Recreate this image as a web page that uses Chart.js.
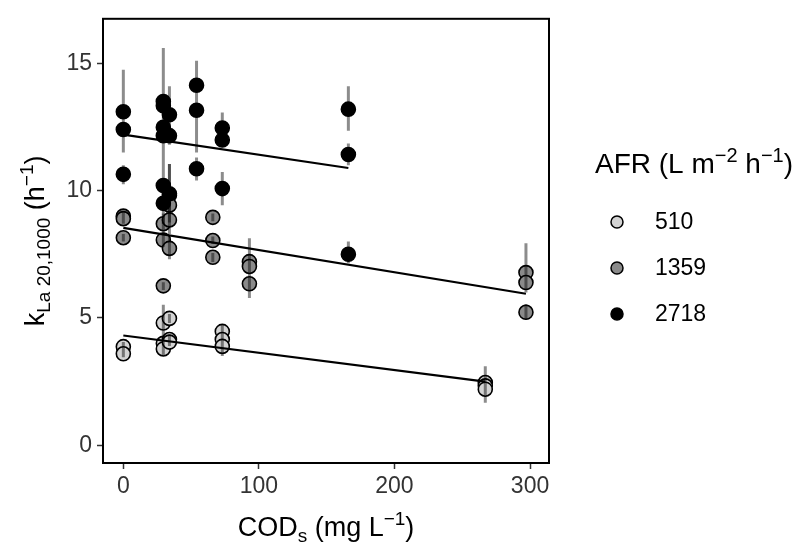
<!DOCTYPE html>
<html><head><meta charset="utf-8">
<script src="https://cdn.jsdelivr.net/npm/chart.js@4/dist/chart.umd.min.js"></script>
<style>html,body{margin:0;padding:0;background:#fff}#c{display:block}</style>
</head><body>
<canvas id="c" width="806" height="546"></canvas>
<script>
// ---- data ----
const xTicks = [0, 100, 200, 300];
const yTicks = [0, 5, 10, 15];
const afrLabels = ['510', '1359', '2718'];

const cod510 = [0, 0, 29.5, 29.5, 29.5, 34, 34, 34, 73, 73, 73, 267, 267, 267];
const kla510 = [3.87, 3.59, 4.8, 4.0, 3.78, 4.98, 4.15, 4.05, 4.47, 4.15, 3.88, 2.46, 2.33, 2.2];
const lo510  = [3.7, 3.45, 4.1, 3.6, 3.5, 4.8, 3.95, 3.9, 4.2, 3.9, 3.5, 2.2, 1.67, 1.9];
const hi510  = [4.05, 3.75, 5.52, 4.4, 4.05, 5.15, 4.35, 4.2, 4.73, 4.4, 4.2, 3.1, 2.9, 2.5];

const cod1359 = [0, 0, 0, 29.5, 29.5, 29.5, 34, 34, 34, 34, 66, 66, 66, 93, 93, 93, 297, 297, 297];
const kla1359 = [9.0, 8.9, 8.15, 8.7, 8.06, 6.26, 9.82, 9.43, 8.85, 7.73, 8.95, 8.04, 7.38, 7.21, 7.02, 6.34, 6.78, 6.39, 5.22];
const lo1359  = [8.8, 8.7, 8.0, 8.3, 7.8, 6.1, 9.2, 8.6, 8.3, 7.3, 8.8, 7.9, 7.2, 6.3, 6.6, 5.78, 6.1, 6.0, 4.93];
const hi1359  = [9.2, 9.1, 8.3, 9.1, 8.3, 6.4, 11.05, 10.3, 9.4, 8.2, 9.1, 8.2, 7.55, 8.13, 7.4, 6.9, 7.93, 6.8, 5.55];

const cod2718 = [0, 0, 0, 29.5, 29.5, 29.5, 29.5, 29.5, 29.5, 34, 34, 34, 54, 54, 54, 73, 73, 73, 166, 166, 166];
const kla2718 = [13.1, 12.4, 10.64, 13.5, 13.33, 12.49, 12.16, 10.2, 9.5, 12.98, 12.16, 9.88, 14.14, 13.16, 10.86, 12.46, 11.99, 10.08, 13.2, 11.42, 7.5];
const lo2718  = [11.5, 11.9, 10.25, 11.4, 12.7, 11.9, 8.7, 9.0, 8.75, 11.8, 11.9, 8.75, 13.2, 11.5, 10.4, 11.7, 11.7, 9.43, 12.35, 11.0, 7.15];
const hi2718  = [14.75, 12.9, 11.0, 15.6, 14.0, 13.1, 14.9, 11.3, 10.2, 14.1, 12.4, 11.05, 15.1, 14.8, 11.3, 13.07, 12.3, 10.73, 14.1, 11.85, 8.0];

// fitted lines: [x start, x end], [y start, y end]
const fitX510 = [0, 267],  fitY510 = [4.31, 2.5];
const fitX1359 = [0, 297], fitY1359 = [8.54, 5.95];
const fitX2718 = [0, 166], fitY2718 = [12.2, 10.89];

const fills = ['#d3d3d3', '#8a8a8a', '#000000'];

// ---- build datasets ----
const pts = (xs, ys) => xs.map((x, i) => ({x, y: ys[i]}));
const bars = (xs, lo, hi) => {
  const out = [];
  xs.forEach((x, i) => { out.push({x, y: lo[i]}, {x, y: hi[i]}, {x, y: null}); });
  return out;
};
const groups = [
  {cod: cod510, kla: kla510, lo: lo510, hi: hi510, fx: fitX510, fy: fitY510},
  {cod: cod1359, kla: kla1359, lo: lo1359, hi: hi1359, fx: fitX1359, fy: fitY1359},
  {cod: cod2718, kla: kla2718, lo: lo2718, hi: hi2718, fx: fitX2718, fy: fitY2718}
];
const datasets = [];
groups.forEach((g, k) => {
  datasets.push({type: 'scatter', label: afrLabels[k], data: pts(g.cod, g.kla),
    backgroundColor: fills[k], borderColor: '#000', borderWidth: 1.6,
    pointRadius: 7, pointHoverRadius: 7, order: 10 - k});
});
groups.forEach((g, k) => {
  datasets.push({type: 'line', label: 'err' + k, data: bars(g.cod, g.lo, g.hi),
    borderColor: 'rgba(0,0,0,0.45)', borderWidth: 3, pointRadius: 0, spanGaps: false,
    showLine: true, fill: false, order: 2});
});
groups.forEach((g, k) => {
  datasets.push({type: 'line', label: 'fit' + k, data: pts(g.fx, g.fy),
    borderColor: '#000', borderWidth: 2.2, pointRadius: 0, fill: false, order: 1});
});

// ---- rich text helper ----
const FONT = '"Liberation Sans", Arial, Helvetica, sans-serif';
function richWidth(ctx, parts) {
  let w = 0;
  parts.forEach(p => { ctx.font = p.s + 'px ' + FONT; w += ctx.measureText(p.t).width; });
  return w;
}
function drawRich(ctx, parts, x, y, align) {
  let w = richWidth(ctx, parts);
  let cx = align === 'center' ? x - w / 2 : x;
  ctx.textBaseline = 'alphabetic';
  ctx.textAlign = 'left';
  parts.forEach(p => {
    ctx.font = p.s + 'px ' + FONT;
    ctx.fillText(p.t, cx, y + (p.dy || 0));
    cx += ctx.measureText(p.t).width;
  });
}
const TS = 27, SS = 19;

const decor = {
  id: 'decor',
  afterDraw(chart) {
    const ctx = chart.ctx, a = chart.chartArea;
    ctx.save();
    ctx.strokeStyle = '#000'; ctx.lineWidth = 2;
    ctx.strokeRect(a.left, a.top, a.right - a.left, a.bottom - a.top);
    ctx.fillStyle = '#000';
    // x title
    drawRich(ctx, [
      {t: 'COD', s: TS}, {t: 's', s: SS, dy: 6}, {t: ' (mg L', s: TS},
      {t: '\u22121', s: SS, dy: -11}, {t: ')', s: TS}
    ], (a.left + a.right) / 2, 536, 'center');
    // y title
    ctx.save();
    ctx.translate(44, (a.top + a.bottom) / 2);
    ctx.rotate(-Math.PI / 2);
    drawRich(ctx, [
      {t: 'k', s: TS}, {t: 'La 20,1000', s: SS, dy: 6}, {t: ' (h', s: TS},
      {t: '\u22121', s: SS, dy: -11}, {t: ')', s: TS}
    ], 0, 0, 'center');
    ctx.restore();
    // legend
    drawRich(ctx, [
      {t: 'AFR (L m', s: 28}, {t: '\u22122', s: 20, dy: -11}, {t: ' h', s: 28},
      {t: '\u22121', s: 20, dy: -11}, {t: ')', s: 28}
    ], 595, 173, 'left');
    const ly = [222, 268, 314];
    afrLabels.forEach((lab, k) => {
      ctx.beginPath();
      ctx.arc(617, ly[k], 6, 0, Math.PI * 2);
      ctx.fillStyle = fills[k]; ctx.fill();
      ctx.lineWidth = 1.5; ctx.strokeStyle = '#000'; ctx.stroke();
      ctx.fillStyle = '#000';
      ctx.font = '23px ' + FONT;
      ctx.textBaseline = 'middle'; ctx.textAlign = 'left';
      ctx.fillText(lab, 655, ly[k] + 1);
    });
    ctx.restore();
  }
};

new Chart(document.getElementById('c'), {
  type: 'scatter',
  data: {datasets},
  plugins: [decor],
  options: {
    responsive: false, animation: false, devicePixelRatio: 1,
    layout: {padding: {left: 0, top: 14, right: 257, bottom: 0}},
    plugins: {legend: {display: false}, tooltip: {enabled: false}},
    scales: {
      x: {
        type: 'linear', min: -15, max: 314,
        afterBuildTicks: s => { s.ticks = xTicks.map(v => ({value: v})); },
        afterFit: s => { s.height = 83; },
        grid: {display: true, drawOnChartArea: false, drawTicks: true, tickLength: 6, tickColor: '#333', tickWidth: 1.5},
        border: {display: false},
        ticks: {color: '#333', font: {size: 23, family: FONT}, padding: 4, maxRotation: 0}
      },
      y: {
        type: 'linear', min: -0.7, max: 16.75,
        afterBuildTicks: s => { s.ticks = yTicks.map(v => ({value: v})); },
        afterFit: s => { s.width = 103; },
        grid: {display: true, drawOnChartArea: false, drawTicks: true, tickLength: 6, tickColor: '#333', tickWidth: 1.5},
        border: {display: false},
        ticks: {color: '#333', font: {size: 23, family: FONT}, padding: 5}
      }
    }
  }
});
</script>
</body></html>
